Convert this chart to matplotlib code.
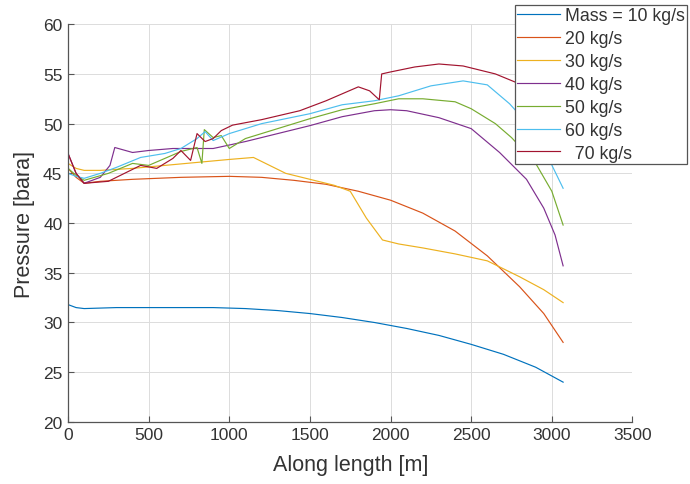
import matplotlib
matplotlib.use('Agg')
import matplotlib.pyplot as plt
from matplotlib.patches import Rectangle

plt.rcParams['font.family'] = ['Liberation Sans', 'DejaVu Sans']

# pressure profiles along the pipe, one per mass flow rate
x10 = [0, 50, 100, 300, 600, 900, 1100, 1300, 1500, 1700, 1900, 2100, 2300, 2500, 2700, 2900, 3070]
p10 = [31.8, 31.5, 31.4, 31.5, 31.5, 31.5, 31.4, 31.2, 30.9, 30.5, 30.0, 29.4, 28.7, 27.8, 26.8, 25.5, 24.0]

x20 = [0, 50, 100, 200, 400, 700, 1000, 1200, 1400, 1600, 1800, 2000, 2200, 2400, 2600, 2800, 2950, 3070]
p20 = [45.5, 44.6, 44.0, 44.2, 44.4, 44.6, 44.7, 44.6, 44.3, 43.9, 43.2, 42.3, 41.0, 39.2, 36.7, 33.6, 30.9, 28.0]

x30 = [0, 50, 100, 200, 400, 600, 800, 1000, 1150, 1250, 1350, 1500, 1650, 1750, 1850, 1950,
       2050, 2200, 2400, 2600, 2800, 2950, 3070]
p30 = [46.0, 45.5, 45.3, 45.3, 45.5, 45.8, 46.1, 46.4, 46.6, 45.8, 45.0, 44.4, 43.8, 43.2, 40.5, 38.3,
       37.9, 37.5, 36.9, 36.2, 34.6, 33.3, 32.0]

x40 = [0, 50, 100, 200, 260, 290, 400, 500, 650, 900, 1100, 1300, 1500, 1700, 1900, 2000, 2100,
       2300, 2500, 2676, 2843, 2950, 3020, 3070]
p40 = [47.0, 45.0, 44.0, 44.6, 45.8, 47.6, 47.1, 47.3, 47.5, 47.5, 48.2, 49.0, 49.8, 50.7, 51.3, 51.4, 51.3,
       50.6, 49.5, 47.1, 44.4, 41.5, 38.8, 35.7]

x50 = [0, 50, 100, 250, 400, 500, 600, 700, 800, 830, 845, 900, 950, 1000, 1100, 1300, 1500, 1700,
       1900, 2050, 2200, 2400, 2500, 2650, 2750, 2900, 3000, 3070]
p50 = [45.5, 44.8, 44.3, 45.0, 46.0, 45.8, 46.5, 47.2, 47.6, 46.0, 49.4, 48.6, 48.8, 47.5, 48.5, 49.5, 50.5, 51.4,
       52.0, 52.5, 52.5, 52.2, 51.5, 50.0, 48.6, 46.0, 43.2, 39.8]

x60 = [0, 50, 100, 200, 300, 450, 600, 700, 800, 850, 900, 1000, 1200, 1500, 1700, 1900, 2050,
       2250, 2450, 2600, 2738, 2850, 2950, 3070]
p60 = [45.0, 44.7, 44.5, 45.0, 45.6, 46.6, 47.0, 47.5, 48.5, 49.2, 48.3, 49.0, 50.0, 51.0, 51.9, 52.3, 52.8,
       53.8, 54.3, 53.9, 52.0, 50.0, 47.5, 43.5]

x70 = [0, 50, 100, 250, 350, 450, 550, 650, 700, 760, 800, 850, 900, 950, 1020, 1200, 1437, 1600,
       1700, 1800, 1870, 1930, 1945, 2000, 2150, 2300, 2450, 2650, 2800, 2950, 3070]
p70 = [47.0, 45.0, 44.0, 44.2, 45.0, 45.8, 45.5, 46.5, 47.3, 46.3, 49.0, 48.2, 48.5, 49.3, 49.85, 50.4, 51.3, 52.3,
       53.0, 53.7, 53.3, 52.4, 55.0, 55.2, 55.7, 56.0, 55.8, 55.0, 54.0, 51.5, 48.0]

labels = ['Mass = 10 kg/s', '20 kg/s', '30 kg/s', '40 kg/s', '50 kg/s', '60 kg/s', '  70 kg/s']
colors = ['#0072BD', '#D95319', '#EDB120', '#7E2F8E', '#77AC30', '#4DBEEE', '#A2142F']

xs = [x10, x20, x30, x40, x50, x60, x70]
ps = [p10, p20, p30, p40, p50, p60, p70]

fig = plt.figure(figsize=(6.9, 4.85), dpi=100)
ax = fig.add_axes([0.0986, 0.128, 0.818, 0.820])

for x, p, lab, c in zip(xs, ps, labels, colors):
    ax.plot(x, p, color=c, lw=0.85, label=lab)

ax.set_xlim(0, 3500)
ax.set_ylim(20, 60)
ax.set_xticks(range(0, 3501, 500))
ax.set_yticks(range(20, 61, 5))
ax.grid(True, color='#dcdcdc', lw=0.7)
ax.set_axisbelow(True)
for side in ['top', 'right']:
    ax.spines[side].set_visible(False)
for side in ['left', 'bottom']:
    ax.spines[side].set_color('#555555')
    ax.spines[side].set_linewidth(0.9)
ax.tick_params(direction='in', length=4, colors='#555555', labelsize=12.5,
               labelcolor='#333333', pad=4)
ax.set_xlabel('Along length [m]', fontsize=15.5, color='#333333', labelpad=8)
ax.set_ylabel('Pressure [bara]', fontsize=15.5, color='#333333', labelpad=6)

leg = fig.legend(loc='upper left', bbox_to_anchor=(0.746, 0.988), fontsize=12.8,
                 frameon=True, fancybox=False, framealpha=1, handlelength=2.4,
                 handletextpad=0.25, labelspacing=0.33, borderpad=0.15, borderaxespad=0)
leg.get_frame().set_edgecolor('#555555')
leg.get_frame().set_linewidth(0.9)
for t in leg.get_texts():
    t.set_color('#333333')

# small white patch over the last legend entry
fig.add_artist(Rectangle((564 / 690, 1 - 163 / 485), 12 / 690, 14 / 485,
                         transform=fig.transFigure, facecolor='white',
                         edgecolor='none', zorder=10))

fig.savefig('out.png', dpi=100)
